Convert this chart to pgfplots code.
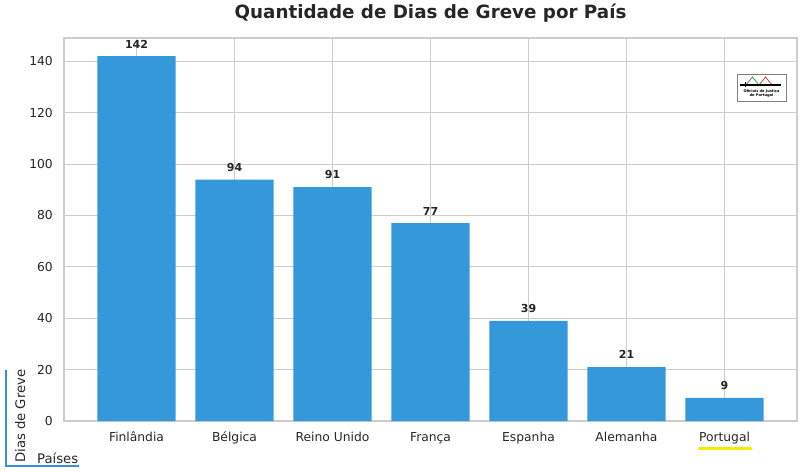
\documentclass[border=0pt]{standalone}
\usepackage{pgfplots}
\pgfplotsset{compat=1.18}
\usepackage{fontspec}
\setmainfont{DejaVu Sans}
\definecolor{barblue}{HTML}{3498DB}
\definecolor{gridgray}{HTML}{CCCCCC}
\definecolor{txt}{HTML}{262626}
\definecolor{lineblue}{HTML}{3A8FD0}
\definecolor{hl}{HTML}{F7EA00}
\definecolor{logogreen}{HTML}{3C9A4E}
\definecolor{logored}{HTML}{C8433A}
\begin{document}
\begin{tikzpicture}[x=1pt,y=1pt]
\path[use as bounding box] (0,0) rectangle (800,472);
\begin{axis}[
  at={(64pt,51pt)}, anchor=south west,
  scale only axis, width=733pt, height=383pt,
  xmin=-0.74, xmax=6.74, ymin=0, ymax=149.1,
  ybar, bar width=0.8, bar shift=0pt,
  xtick={0,1,2,3,4,5,6},
  xticklabels={Finlândia,Bélgica,Reino Unido,França,Espanha,Alemanha,Portugal},
  ytick={0,20,40,60,80,100,120,140},
  /pgf/number format/assume math mode=true,
  grid=major,
  major grid style={color=gridgray, line width=0.9pt},
  axis line style={color=gridgray, line width=1.1pt},
  major tick length=0pt,
  tick style={draw=none},
  yticklabel style={font=\fontsize{12.3}{14}\selectfont, color=txt, anchor=east, inner sep=0pt, xshift=-11pt},
  xticklabel style={font=\fontsize{12.3}{14}\selectfont, color=txt, anchor=base, inner sep=0pt, yshift=-20.5pt},
  nodes near coords,
  nodes near coords style={font=\bfseries\fontsize{11}{13}\selectfont, color=txt, anchor=south, inner sep=0pt, yshift=8pt},
]
\addplot[fill=barblue, draw=none] coordinates {(0,142) (1,94) (2,91) (3,77) (4,39) (5,21) (6,9)};
\end{axis}
% title
\node[anchor=base, inner sep=0pt, font=\bfseries\fontsize{18.3}{20}\selectfont, color=txt] at (430.5,453) {Quantidade de Dias de Greve por País};
% highlight under Portugal
\draw[hl, line width=3pt, line cap=round] (699,23.5) -- (751,23.5);
% bottom-left axis titles
\draw[lineblue, line width=1.2pt] (6,102) -- (6,6) -- (79,6);
\node[rotate=90, anchor=base west, inner sep=0pt, font=\fontsize{13.2}{15}\selectfont, color=txt] at (25,9) {Dias de Greve};
\node[anchor=base west, inner sep=0pt, font=\fontsize{13.2}{15}\selectfont, color=txt] at (37,9) {Países};
% logo
\draw[gray, fill=white, line width=0.8pt] (737,371) rectangle (786,398);
\draw[logogreen, line width=0.8pt] (746,387) -- (752.5,395) -- (759,387);
\draw[logored, line width=0.8pt] (759,387) -- (765.5,395) -- (772,387);
\draw[black, line width=1.6pt] (740,387) -- (781,387);
\draw[black, line width=1pt] (745,384.5) -- (745,389.5);
\node[inner sep=0pt, font=\bfseries\fontsize{3.6}{3.9}\selectfont, align=center] at (761.5,378.5) {Oficiais de Justiça\\de Portugal};
\end{tikzpicture}
\end{document}
